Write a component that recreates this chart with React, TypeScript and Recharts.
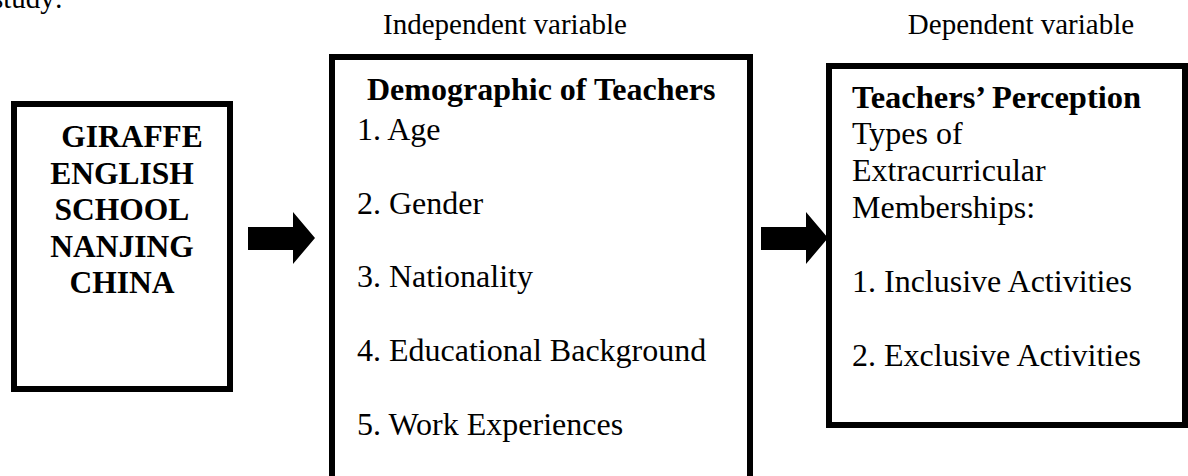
import { Surface, Layer, Rectangle, Polygon, Text } from "recharts"

const caption = "study:"
const headers = ["Independent variable", "Dependent variable"]
const schoolLines = [" GIRAFFE", "ENGLISH", "SCHOOL", "NANJING", "CHINA"]
const demographicTitle = "Demographic of Teachers"
const demographicItems = ["1. Age", "2. Gender", "3. Nationality", "4. Educational Background", "5. Work Experiences"]
const perceptionTitle = "Teachers\u2019 Perception"
const perceptionLines = ["Types of", "Extracurricular", "Memberships:"]
const perceptionItems = ["1. Inclusive Activities", "2. Exclusive Activities"]

const W = 1188
const H = 476
const serif = "'Liberation Serif', 'Times New Roman', serif"

function Arrow({ x, y }: { x: number; y: number }) {
  // block arrow: shaft 45px, head 22px, tip on centre line y
  const pts = [
    { x, y: y - 11 },
    { x: x + 45, y: y - 11 },
    { x: x + 45, y: y - 26 },
    { x: x + 67, y },
    { x: x + 45, y: y + 26 },
    { x: x + 45, y: y + 12 },
    { x, y: y + 12 },
  ]
  return <Polygon points={pts} fill="#000" stroke="none" />
}

export default function App() {
  return (
    <div style={{ position: "absolute", left: 0, top: 0, width: W, height: H, background: "#fff" }}>
      <Surface width={W} height={H} style={{ fontFamily: serif }}>
        <Text x={-8} y={8} fontSize={29} fontFamily={serif} fill="#000">{caption}</Text>
        <Text x={505} y={34} textAnchor="middle" fontSize={29} fontFamily={serif} fill="#000">{headers[0]}</Text>
        <Text x={1021} y={34} textAnchor="middle" fontSize={29} fontFamily={serif} fill="#000">{headers[1]}</Text>

        {/* left box */}
        <Layer>
          <Rectangle x={14} y={104} width={216} height={285} fill="#fff" stroke="#000" strokeWidth={6} />
          {schoolLines.map((s, i) => (
            <Text
              key={s}
              x={s.startsWith(" ") ? 132 : 122}
              y={147 + i * 36.6}
              textAnchor="middle"
              fontSize={31.5}
              fontWeight="bold"
              fontFamily={serif}
              fill="#000"
            >
              {s.trim()}
            </Text>
          ))}
        </Layer>

        <Arrow x={248} y={238} />

        {/* middle box */}
        <Layer>
          <Rectangle x={332} y={57} width={418} height={460} fill="#fff" stroke="#000" strokeWidth={6} />
          <Text x={367} y={100} fontSize={32} fontWeight="bold" fontFamily={serif} fill="#000">{demographicTitle}</Text>
          {demographicItems.map((s, i) => (
            <Text key={s} x={357} y={140 + i * 73.7} fontSize={32} fontFamily={serif} fill="#000">{s}</Text>
          ))}
        </Layer>

        <Arrow x={761} y={238} />

        {/* right box */}
        <Layer>
          <Rectangle x={829} y={66} width={356} height={359} fill="#fff" stroke="#000" strokeWidth={6} />
          <Text x={852} y={108} fontSize={32.5} fontWeight="bold" fontFamily={serif} fill="#000">{perceptionTitle}</Text>
          {perceptionLines.map((s, i) => (
            <Text key={s} x={852} y={144 + i * 37} fontSize={32} fontFamily={serif} fill="#000">{s}</Text>
          ))}
          {perceptionItems.map((s, i) => (
            <Text key={s} x={852} y={292 + i * 73.5} fontSize={32} fontFamily={serif} fill="#000">{s}</Text>
          ))}
        </Layer>
      </Surface>
    </div>
  )
}
